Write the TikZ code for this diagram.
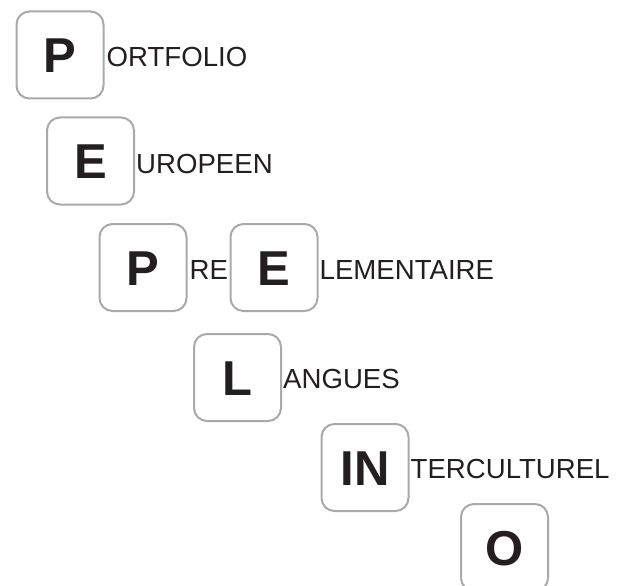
\documentclass[tikz,border=0pt]{standalone}
\usepackage{fontspec}
\setmainfont{Liberation Sans}
\usetikzlibrary{positioning}
\definecolor{keyline}{HTML}{A7A9AC}
\definecolor{ink}{HTML}{231F20}
\tikzset{
  key/.style={draw=keyline, line width=2pt, rounded corners=13pt,
    minimum width=87pt, minimum height=87pt, inner sep=0pt,
    text height=35pt, text depth=0pt, text=ink,
    font=\fontsize{49}{52}\selectfont\bfseries},
  word/.style={inner sep=0pt, anchor=base west, text=ink,
    font=\fontsize{27.6}{30}\selectfont}
}
\begin{document}
\begin{tikzpicture}[x=1pt,y=1pt]
  \useasboundingbox (0,0) rectangle (622,-586);
  \clip (0,0) rectangle (622,-586);
  % letter keys
  \node[key] (kP1) at (60,-55)     {P};
  \node[key] (kE1) at (90.5,-161)  {E};
  \node[key] (kP2) at (143,-267.5) {P};
  \node[key] (kE2) at (274,-267.5) {E};
  \node[key] (kL)  at (237.5,-377.5) {L};
  \node[key] (kIN) at (365,-467.5) {IN};
  \node[key] (kO)  at (504.5,-547.5) {O};
  % the rest of each word
  \node[word] (wP1) at ([xshift=2pt,yshift=-12pt]kP1.east) {ORTFOLIO};
  \node[word] (wE1) at ([xshift=1pt,yshift=-12pt]kE1.east) {UROPEEN};
  \node[word] (wP2) at ([xshift=2pt,yshift=-12pt]kP2.east) {RE};
  \node[word] (wE2) at ([xshift=1pt,yshift=-12pt]kE2.east) {LEMENTAIRE};
  \node[word] (wL)  at ([xshift=1pt,yshift=-10.5pt]kL.east) {ANGUES};
  \node[word] (wIN) at ([xshift=1pt,yshift=-10.5pt]kIN.east) {TERCULTUREL};
\end{tikzpicture}
\end{document}
